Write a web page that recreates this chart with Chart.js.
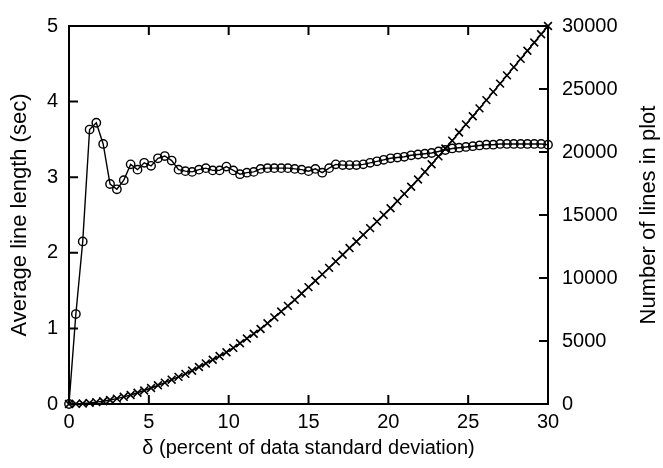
<!DOCTYPE html>
<html>
<head>
<meta charset="utf-8">
<script src="https://cdn.jsdelivr.net/npm/chart.js@4.4.1/dist/chart.umd.min.js"></script>
<style>
  html, body { margin: 0; padding: 0; background: #fff; }
  #wrap { width: 663px; height: 468px; }
</style>
</head>
<body>
<div id="wrap"><canvas id="chart" width="663" height="468"></canvas></div>
<script>
// delta (percent of data std deviation), 71 samples from 0 to 30
const deltas = [
    0.00, 0.43, 0.86, 1.29, 1.71, 2.14, 2.57, 3.00, 3.43, 3.86,
    4.29, 4.71, 5.14, 5.57, 6.00, 6.43, 6.86, 7.29, 7.71, 8.14,
    8.57, 9.00, 9.43, 9.86, 10.29, 10.71, 11.14, 11.57, 12.00, 12.43,
    12.86, 13.29, 13.71, 14.14, 14.57, 15.00, 15.43, 15.86, 16.29, 16.71,
    17.14, 17.57, 18.00, 18.43, 18.86, 19.29, 19.71, 20.14, 20.57, 21.00,
    21.43, 21.86, 22.29, 22.71, 23.14, 23.57, 24.00, 24.43, 24.86, 25.29,
    25.71, 26.14, 26.57, 27.00, 27.43, 27.86, 28.29, 28.71, 29.14, 29.57,
    30.00
];

// average line length (sec), left axis
const avgLength = [
    0.00, 1.19, 2.15, 3.63, 3.72, 3.44, 2.91, 2.84, 2.96, 3.17,
    3.10, 3.19, 3.15, 3.25, 3.28, 3.22, 3.10, 3.08, 3.07, 3.10,
    3.12, 3.09, 3.09, 3.14, 3.09, 3.04, 3.06, 3.07, 3.11, 3.12,
    3.12, 3.12, 3.12, 3.11, 3.10, 3.08, 3.11, 3.06, 3.12, 3.17,
    3.16, 3.16, 3.16, 3.17, 3.19, 3.21, 3.23, 3.25, 3.26, 3.27,
    3.29, 3.30, 3.31, 3.32, 3.34, 3.36, 3.38, 3.39, 3.40, 3.41,
    3.42, 3.43, 3.43, 3.44, 3.44, 3.44, 3.44, 3.44, 3.44, 3.44,
    3.43
];

// number of lines in plot, right axis
const numLines = [
    0, 10, 37, 90, 150, 220, 320, 430, 570, 715,
    890, 1070, 1270, 1485, 1700, 1930, 2155, 2390, 2645, 2935,
    3220, 3510, 3805, 4105, 4455, 4820, 5200, 5575, 5950, 6410,
    6875, 7335, 7790, 8265, 8770, 9275, 9780, 10285, 10805, 11320,
    11845, 12375, 12900, 13425, 13955, 14480, 15005, 15535, 16105, 16675,
    17245, 17815, 18420, 19030, 19655, 20275, 20900, 21545, 22190, 22835,
    23465, 24115, 24770, 25425, 26080, 26735, 27390, 28035, 28690, 29345,
    30000
];

const xTicks = [0, 5, 10, 15, 20, 25, 30];
const yTicks = [0, 1, 2, 3, 4, 5];
const y2Ticks = [0, 5000, 10000, 15000, 20000, 25000, 30000];

const FONT = "'Liberation Sans', Arial, sans-serif";

// gnuplot-like frame, inward ticks and the y2 label (reads bottom to top)
const framePlugin = {
    id: "frame",
    afterDraw(chart)
    {
        const {ctx, chartArea: a, scales} = chart;
        const len = 9;
        ctx.save();
        ctx.strokeStyle = "#000";
        ctx.lineWidth = 2;
        ctx.strokeRect(a.left, a.top, a.right - a.left, a.bottom - a.top);
        ctx.beginPath();
        xTicks.forEach(v => {
            const px = scales.x.getPixelForValue(v);
            ctx.moveTo(px, a.bottom); ctx.lineTo(px, a.bottom - len);
            ctx.moveTo(px, a.top); ctx.lineTo(px, a.top + len);
        });
        yTicks.forEach(v => {
            const py = scales.y.getPixelForValue(v);
            ctx.moveTo(a.left, py); ctx.lineTo(a.left + len, py);
        });
        y2Ticks.forEach(v => {
            const py = scales.y2.getPixelForValue(v);
            ctx.moveTo(a.right, py); ctx.lineTo(a.right - len, py);
        });
        ctx.stroke();

        ctx.translate(649, (a.top + a.bottom) / 2);
        ctx.rotate(-Math.PI / 2);
        ctx.fillStyle = "#000";
        ctx.font = "22px " + FONT;
        ctx.textAlign = "center";
        ctx.textBaseline = "middle";
        ctx.fillText("Number of lines in plot", 0, 0);
        ctx.restore();
    }
};

function generateChart(elem)
{
    try
    {
        const data = {
            datasets: [{
                label: "Average line length",
                data: deltas.map((d, i) => ({x: d, y: avgLength[i]})),
                yAxisID: "y",
                borderColor: "#000",
                borderWidth: 1.4,
                pointStyle: "circle",
                pointRadius: 4.2,
                pointBorderWidth: 1.4,
                pointBorderColor: "#000",
                pointBackgroundColor: "rgba(0,0,0,0)",
                clip: false
            }, {
                label: "Number of lines",
                data: deltas.map((d, i) => ({x: d, y: numLines[i]})),
                yAxisID: "y2",
                borderColor: "#000",
                borderWidth: 1.4,
                pointStyle: "crossRot",
                pointRadius: 5.5,
                pointBorderWidth: 1.6,
                pointBorderColor: "#000",
                clip: false
            }]
        };

        const tickFont = {family: FONT, size: 20};

        const config = {
            type: "line",
            data: data,
            options: {
                responsive: false,
                animation: false,
                layout: {padding: {top: 16, left: 0, right: 0, bottom: 0}},
                plugins: {legend: {display: false}, tooltip: {enabled: false}},
                scales: {
                    x: {
                        type: "linear",
                        min: 0, max: 30,
                        grid: {display: false, drawTicks: false},
                        border: {display: false},
                        afterBuildTicks: s => { s.ticks = xTicks.map(v => ({value: v})); },
                        afterFit: s => { s.height = 64; },
                        ticks: {color: "#000", font: tickFont, padding: 6},
                        title: {display: true, text: "\u03b4 (percent of data standard deviation)",
                                color: "#000", font: {family: FONT, size: 20}, padding: {top: 0, bottom: 8}}
                    },
                    y: {
                        position: "left",
                        min: 0, max: 5,
                        grid: {display: false, drawTicks: false},
                        border: {display: false},
                        afterBuildTicks: s => { s.ticks = yTicks.map(v => ({value: v})); },
                        afterFit: s => { s.width = 69; },
                        ticks: {color: "#000", font: tickFont, padding: 11},
                        title: {display: true, text: "Average line length (sec)",
                                color: "#000", font: {family: FONT, size: 22}, padding: {top: 7, bottom: 0}}
                    },
                    y2: {
                        position: "right",
                        min: 0, max: 30000,
                        grid: {display: false, drawTicks: false},
                        border: {display: false},
                        afterBuildTicks: s => { s.ticks = y2Ticks.map(v => ({value: v})); },
                        afterFit: s => { s.width = 115; },
                        ticks: {color: "#000", font: tickFont, padding: 14,
                                callback: v => String(v)}
                    }
                }
            },
            plugins: [framePlugin]
        };

        new Chart(elem, config);
        return true;
    }
    catch (e)
    {
        console.error(e.message);
    }
    return false;
}

generateChart(document.getElementById("chart"));
</script>
</body>
</html>
